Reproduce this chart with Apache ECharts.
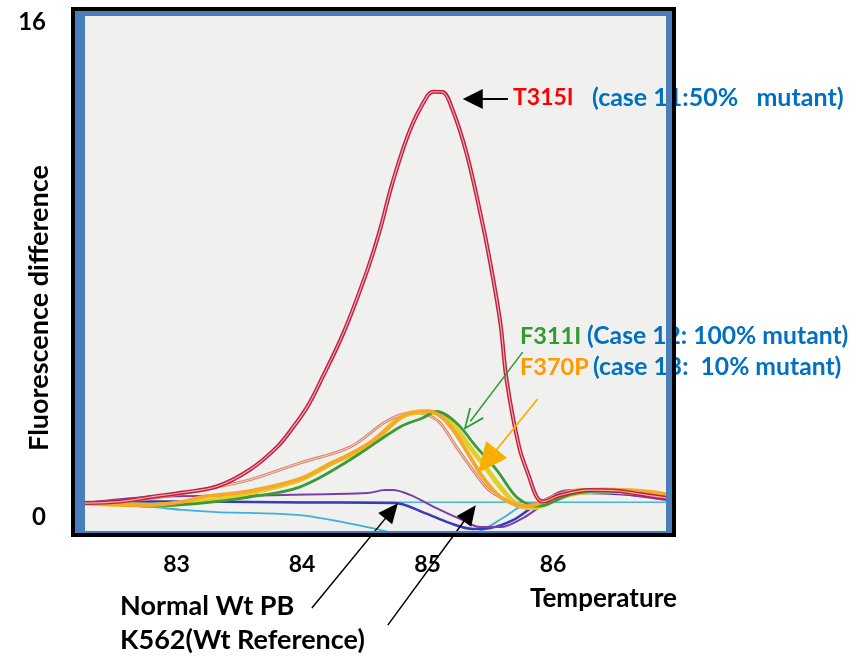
<!DOCTYPE html>
<html>
<head>
<meta charset="utf-8">
<script src="https://cdn.jsdelivr.net/npm/echarts@6/dist/echarts.min.js"></script>
<style>
html,body{margin:0;padding:0;background:#fff;}
#chart{width:863px;height:660px;}
</style>
</head>
<body>
<div id="chart"></div>
<script>
// ---- data (temperature, fluorescence difference) ----
const xTicks = [83, 84, 85, 86];
const yTicks = [0, 16];

const t315i = [[82.27,0.00],[82.55,0.05],[82.79,0.20],[83.05,0.35],[83.32,0.55],[83.58,1.10],[83.80,1.86],[83.93,2.53],[84.04,3.19],[84.14,3.99],[84.33,5.66],[84.52,7.75],[84.62,9.08],[84.72,10.65],[84.86,12.41],[85.00,13.55],[85.05,13.68],[85.12,13.67],[85.20,13.07],[85.31,11.64],[85.42,9.65],[85.50,7.98],[85.58,5.99],[85.63,4.09],[85.73,1.86],[85.81,0.86],[85.87,0.20],[85.92,0.05],[86.05,0.25],[86.29,0.43],[86.53,0.40],[86.69,0.30],[86.90,0.17]];

const salmon = [[82.27,0.00],[82.79,0.15],[83.19,0.43],[83.58,0.77],[83.98,1.33],[84.38,1.86],[84.65,2.66],[84.78,2.93],[84.90,3.00],[85.00,2.93],[85.10,2.66],[85.23,1.86],[85.36,1.10],[85.49,0.43],[85.63,0.10],[85.75,-0.13],[85.85,-0.07],[86.05,0.30],[86.30,0.45],[86.60,0.38],[86.90,0.25]];

const f370p = [[82.27,0.00],[82.55,-0.05],[82.79,-0.07],[83.05,0.05],[83.20,0.20],[83.58,0.40],[83.98,0.80],[84.24,1.33],[84.52,1.95],[84.70,2.55],[84.80,2.90],[84.90,3.03],[85.00,3.06],[85.10,2.90],[85.20,2.45],[85.33,1.60],[85.45,0.80],[85.58,0.20],[85.70,-0.05],[85.80,-0.10],[85.95,0.10],[86.15,0.40],[86.40,0.45],[86.70,0.40],[86.90,0.30]];

const yellow = [[82.27,0.00],[82.79,-0.07],[83.20,0.05],[83.58,0.33],[83.98,0.77],[84.24,1.33],[84.52,1.86],[84.78,2.83],[84.95,3.03],[85.07,3.00],[85.20,2.60],[85.33,1.90],[85.46,1.20],[85.60,0.43],[85.70,0.00],[85.80,-0.15],[85.90,-0.10],[86.10,0.25],[86.40,0.40],[86.90,0.25]];

const f311i = [[82.27,0.00],[82.55,-0.05],[82.79,-0.10],[83.20,0.00],[83.58,0.20],[83.98,0.53],[84.38,1.43],[84.78,2.53],[84.96,2.83],[85.07,3.05],[85.23,2.66],[85.39,1.86],[85.55,1.10],[85.68,0.33],[85.74,0.10],[85.85,-0.10],[85.95,-0.05],[86.15,0.30],[86.40,0.40],[86.90,0.25]];

const normalWt = [[82.27,0.00],[82.79,0.20],[83.85,0.27],[84.52,0.33],[84.66,0.43],[84.72,0.43],[84.86,0.27],[85.07,-0.17],[85.28,-0.57],[85.42,-0.80],[85.58,-0.80],[85.76,-0.50],[85.89,-0.13],[86.03,0.33],[86.16,0.43],[86.45,0.35],[86.90,0.10]];

const k562 = [[82.27,0.00],[82.55,0.05],[83.20,0.05],[84.00,0.02],[84.74,0.00],[84.96,-0.30],[85.18,-0.67],[85.36,-0.86],[85.50,-0.83],[85.68,-0.57],[85.84,-0.13],[86.03,0.27],[86.30,0.33],[86.90,0.15]];

const cyanDip = [[82.27,0.00],[82.79,-0.13],[83.05,-0.23],[83.32,-0.30],[83.58,-0.33],[83.98,-0.40],[84.24,-0.57],[84.52,-0.80],[84.70,-0.97],[84.90,-1.20],[85.20,-1.20],[85.42,-0.93],[85.60,-0.50],[85.78,-0.05],[86.00,0.03]];

const baseline = [[82.27,0.03],[86.90,0.03]];

// arrows: [start, arrow-head centre] in (temperature, fluorescence) units
const arrowT315I = [[85.64, 13.44], [85.36, 13.44]];
const arrowF311I = [[85.758, 5.02], [85.341, 2.72]];
const arrowF370P = [[85.877, 3.46], [85.475, 1.39]];
const arrowNormal = [[84.078, -3.49], [84.713, -0.26]];
const arrowK562 = [[84.683, -4.06], [85.337, -0.34]];

// ---- chart ----
const chart = echarts.init(document.getElementById('chart'));
const FONT = 'Lato';

function line(name, data, color, width, z) {
  return {
    name, type: 'line', data, showSymbol: false, smooth: 0.35,
    lineStyle: { color, width }, z: z, animation: false, silent: true
  };
}

function arrow(pts, color, width, symbol, size) {
  return [
    { coord: pts[0], lineStyle: { color, width, type: 'solid' } },
    { coord: pts[1], symbol, symbolSize: size }
  ];
}

const series = [
  Object.assign(line('baseline', baseline, '#45b5dc', 1.5, 3), {
    xAxisIndex: 1, yAxisIndex: 1, clip: false,
    markLine: {
      silent: true, animation: false, z: 25,
      label: { show: false },
      symbol: ['none', 'triangle'],
      lineStyle: { type: 'solid' },
      data: [
        arrow(arrowT315I, '#000', 1.8, 'triangle', [20, 20]),
        arrow(arrowF311I, '#2e9a35', 1.5, 'path://M10,0 L20,22 L18.2,23 L10,4.5 L1.8,23 L0,22 Z', [18, 22]),
        arrow(arrowF370P, '#f7b000', 1.8, 'triangle', [27, 30]),
        arrow(arrowNormal, '#000', 1.5, 'triangle', [18, 20]),
        arrow(arrowK562, '#000', 1.5, 'triangle', [18, 20])
      ]
    }
  }),
  line('cyan', cyanDip, '#3fb0d8', 1.8, 4),
  line('K562', k562, '#3a3ab8', 2.5, 5),
  line('Normal Wt PB', normalWt, '#7a3ea8', 2, 6),
  line('salmon', salmon, '#d9866c', 3, 7),
  line('salmon-inner', salmon, '#f4d2c2', 1, 8),
  line('yellow', yellow, '#e3cf2a', 5, 9),
  line('F311I', f311i, '#3d9a3a', 2.8, 10),
  line('F370P', f370p, '#f5a82a', 3.8, 11),
  line('T315I', t315i, '#c2203c', 4, 12),
  line('T315I-inner', t315i, '#f2a9b8', 1.2, 13)
];

const txt = (text, x, y, color, size, extra) => Object.assign({
  type: 'text', x, y, z: 30,
  style: { text, fill: color, font: 'bold ' + size + 'px ' + FONT, align: 'left', verticalAlign: 'middle' }
}, extra || {});

const hiddenAxis = { show: false, axisLine: { show: false }, axisTick: { show: false }, splitLine: { show: false }, axisLabel: { show: false } };

chart.setOption({
  animation: false,
  backgroundColor: '#ffffff',
  grid: [
    { left: 85, right: 197, top: 16, bottom: 129, show: true, backgroundColor: '#f0f0ef', borderWidth: 0 },
    { left: 85, right: 197, top: 16, bottom: 0, show: false }
  ],
  xAxis: [
    {
      type: 'value', min: 82.27, max: 86.9,
      axisLine: { show: false }, axisTick: { show: false }, splitLine: { show: false },
      axisLabel: { customValues: xTicks, margin: 22, color: '#000', fontFamily: FONT, fontWeight: 'bold', fontSize: 23 }
    },
    Object.assign({ type: 'value', gridIndex: 1, min: 82.27, max: 86.9 }, hiddenAxis)
  ],
  yAxis: [
    {
      type: 'value', min: -0.93, max: 16.2,
      axisLine: { show: false }, axisTick: { show: false }, splitLine: { show: false },
      axisLabel: {
        customValues: yTicks, margin: 39, color: '#000', fontFamily: FONT, fontWeight: 'bold', fontSize: 24,
        formatter: v => v === 0 ? '{d|0}' : '{n|' + v + '}',
        rich: { d: { padding: [28, 0, 0, 0], fontFamily: FONT, fontWeight: 'bold', fontSize: 24, color: '#000' },
                n: { fontFamily: FONT, fontWeight: 'bold', fontSize: 24, color: '#000' } }
      }
    },
    Object.assign({ type: 'value', gridIndex: 1, min: -5.22, max: 16.2 }, hiddenAxis)
  ],
  series,
  graphic: [
    // frame
    { type: 'rect', z: 40, shape: { x: 75, y: 11, width: 10, height: 522 }, style: { fill: '#4a7ebb' } },
    { type: 'rect', z: 40, shape: { x: 75, y: 11, width: 597, height: 5 }, style: { fill: '#4a7ebb' } },
    { type: 'rect', z: 40, shape: { x: 666, y: 11, width: 6, height: 522 }, style: { fill: '#4a7ebb' } },
    { type: 'rect', z: 40, shape: { x: 75, y: 531, width: 597, height: 2 }, style: { fill: '#4a7ebb' } },
    { type: 'rect', z: 41, shape: { x: 73, y: 9, width: 601, height: 526 }, style: { fill: 'none', stroke: '#000', lineWidth: 4 } },
    // texts
    txt('Fluorescence difference', 39, 308, '#000', 27, { rotation: Math.PI / 2, style: { text: 'Fluorescence difference', fill: '#000', font: 'bold 27px ' + FONT, align: 'center', verticalAlign: 'middle' } }),
    txt('Temperature', 530, 599, '#000', 26),
    txt('Normal Wt PB', 120, 606, '#000', 27),
    txt('K562(Wt Reference)', 120, 640, '#000', 27),
    txt('T315I', 513, 98, '#ff0000', 23),
    txt('(case 11:50%   mutant)', 592, 98, '#0070c0', 25),
    txt('F311I', 520, 336, '#339933', 23.5),
    txt('(Case 12: 100% mutant)', 587, 336, '#0070c0', 24.7),
    txt('F370P', 520, 367, '#ff9900', 23.5),
    txt('(case 13:  10% mutant)', 593, 367, '#0070c0', 24.7)
  ]
});
</script>
</body>
</html>
